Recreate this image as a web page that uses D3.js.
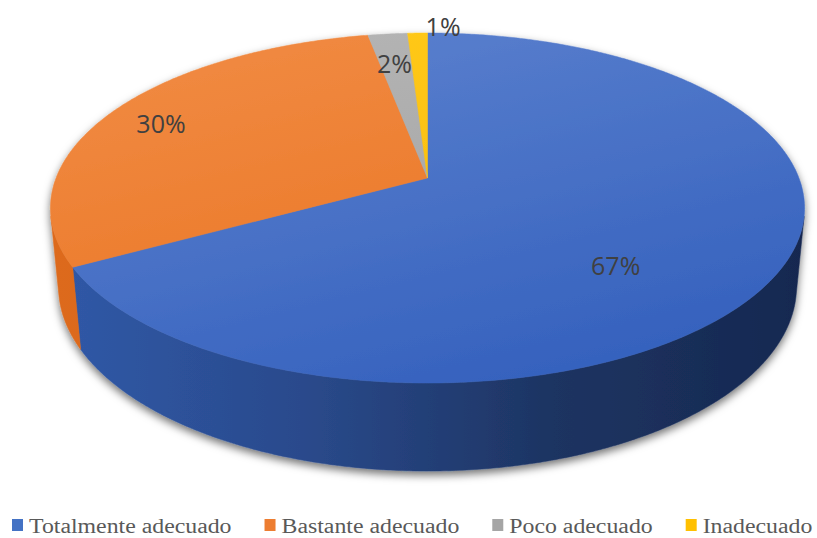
<!DOCTYPE html>
<html>
<head>
<meta charset="utf-8">
<script src="https://cdn.jsdelivr.net/npm/d3@7"></script>
<style>
  body { margin: 0; background: #fff; }
  svg { display: block; }
  .legend-text { font-family: "Liberation Serif", "Times New Roman", "DejaVu Serif", serif; }
</style>
</head>
<body>
<svg id="chart" width="817" height="538"></svg>
<script>
// data
const categories = ["Totalmente adecuado", "Bastante adecuado", "Poco adecuado", "Inadecuado"];
const values = [67, 30, 2, 1];
const labels = ["67%", "30%", "2%", "1%"];

const topColors = [["#587ecd", "#3662be"], ["#f0883f", "#e9721f"], ["#b3b3b3", "#a0a0a0"], ["#ffc81a", "#f5b800"]];
const wallColors = [["#3059a8", "#2a4a8c", "#1d3462", "#162850"], ["#dd6a1c", "#d5641a", "#c45a15", "#b04f12"],
                    ["#8e8e8e", "#888", "#777", "#666"], ["#d9a300", "#d09a00", "#b88800", "#a57a00"]];
const legendColors = ["#4472c4", "#ed7d31", "#a5a5a5", "#ffc000"];

// 3d projection of the disk (theta clockwise from the far point)
const cx = 427.5, cy = 178;
const S = 0.4573, C = 0.8893, D = 5.187, F = 1926.8, depth = 0.2395;
function proj(theta, r, h) {
    const u = r * Math.sin(theta), v = r * Math.cos(theta);
    const y = v * S + h * C, z = D + v * C - h * S;
    return [cx + F * u / z, cy - F * y / z];
}
// walls facing the camera
const visLim = Math.acos(-1 / (D * C));
const visMin = visLim, visMax = 2 * Math.PI - visLim;

const svg = d3.select("#chart");
const defs = svg.append("defs");

const shadow = defs.append("filter").attr("id", "shadow")
    .attr("x", "-10%").attr("y", "-10%").attr("width", "120%").attr("height", "130%");
shadow.append("feDropShadow").attr("dx", 0).attr("dy", 4).attr("stdDeviation", 4)
    .attr("flood-color", "#000").attr("flood-opacity", 0.55);

topColors.forEach((c, i) => {
    const g = defs.append("linearGradient").attr("id", "top" + i).attr("gradientUnits", "userSpaceOnUse")
        .attr("x1", 380).attr("y1", 30).attr("x2", 470).attr("y2", 390);
    g.append("stop").attr("offset", 0).attr("stop-color", c[0]);
    g.append("stop").attr("offset", 1).attr("stop-color", c[1]);
});
wallColors.forEach((c, i) => {
    const g = defs.append("linearGradient").attr("id", "wall" + i).attr("gradientUnits", "userSpaceOnUse")
        .attr("x1", 50).attr("y1", 0).attr("x2", 805).attr("y2", 0);
    c.forEach((s, j) => g.append("stop").attr("offset", j / (c.length - 1)).attr("stop-color", s));
});

const arcs = d3.pie().sort(null).value(d => d)(values);
const line = d3.line();
const step = Math.PI / 360;

function arcPoints(a0, a1, r, h) {
    const n = Math.max(2, Math.ceil((a1 - a0) / step));
    return d3.range(n + 1).map(k => proj(a0 + (a1 - a0) * k / n, r, h));
}

const pie = svg.append("g").attr("filter", "url(#shadow)");

// walls
pie.selectAll(".wall").data(arcs).join("path").attr("class", "wall")
    .attr("d", d => {
        const a0 = Math.max(d.startAngle, visMin), a1 = Math.min(d.endAngle, visMax);
        if (a1 <= a0) return null;
        const pts = arcPoints(a0, a1, 1, 0).concat(arcPoints(a0, a1, 1, -depth).reverse());
        return line(pts) + "Z";
    })
    .attr("fill", (d, i) => `url(#wall${i})`)
    .attr("stroke", (d, i) => `url(#wall${i})`).attr("stroke-width", 0.5);

// tops
pie.selectAll(".top").data(arcs).join("path").attr("class", "top")
    .attr("d", d => line([proj(0, 0, 0)].concat(arcPoints(d.startAngle, d.endAngle, 1, 0))) + "Z")
    .attr("fill", (d, i) => `url(#top${i})`)
    .attr("stroke", (d, i) => `url(#top${i})`).attr("stroke-width", 0.5);

// data labels: offset angle (deg) and radius on the disk
const labelAt = [[15, 0.665], [-1.3, 0.83], [-0.4, 0.76], [4.5, 1.05]];
svg.selectAll(".lbl").data(arcs).join("text").attr("class", "lbl")
    .attr("transform", (d, i) => {
        const mid = (d.startAngle + d.endAngle) / 2 + labelAt[i][0] * Math.PI / 180;
        const p = proj(mid, labelAt[i][1], 0);
        return `translate(${p[0]},${p[1]})`;
    })
    .attr("text-anchor", "middle").attr("dy", "0.35em")
    .attr("font-family", "'Open Sans', sans-serif").attr("font-size", 25)
    .attr("fill", "#404040")
    .text((d, i) => labels[i]);

// legend
const legend = svg.append("g").attr("transform", "translate(12,0)");
let lx = 0;
categories.forEach((c, i) => {
    const g = legend.append("g").attr("transform", `translate(${lx},0)`);
    g.append("rect").attr("x", 0).attr("y", 519).attr("width", 11).attr("height", 12).attr("fill", legendColors[i]);
    const t = g.append("text").attr("class", "legend-text").attr("x", 17).attr("y", 533)
        .attr("font-size", 20).attr("fill", "#595959").text(c);
    const w = t.node().getComputedTextLength() * 1.19;
    t.attr("textLength", w).attr("lengthAdjust", "spacingAndGlyphs");
    lx += 17 + w + 33;
});
</script>
</body>
</html>
